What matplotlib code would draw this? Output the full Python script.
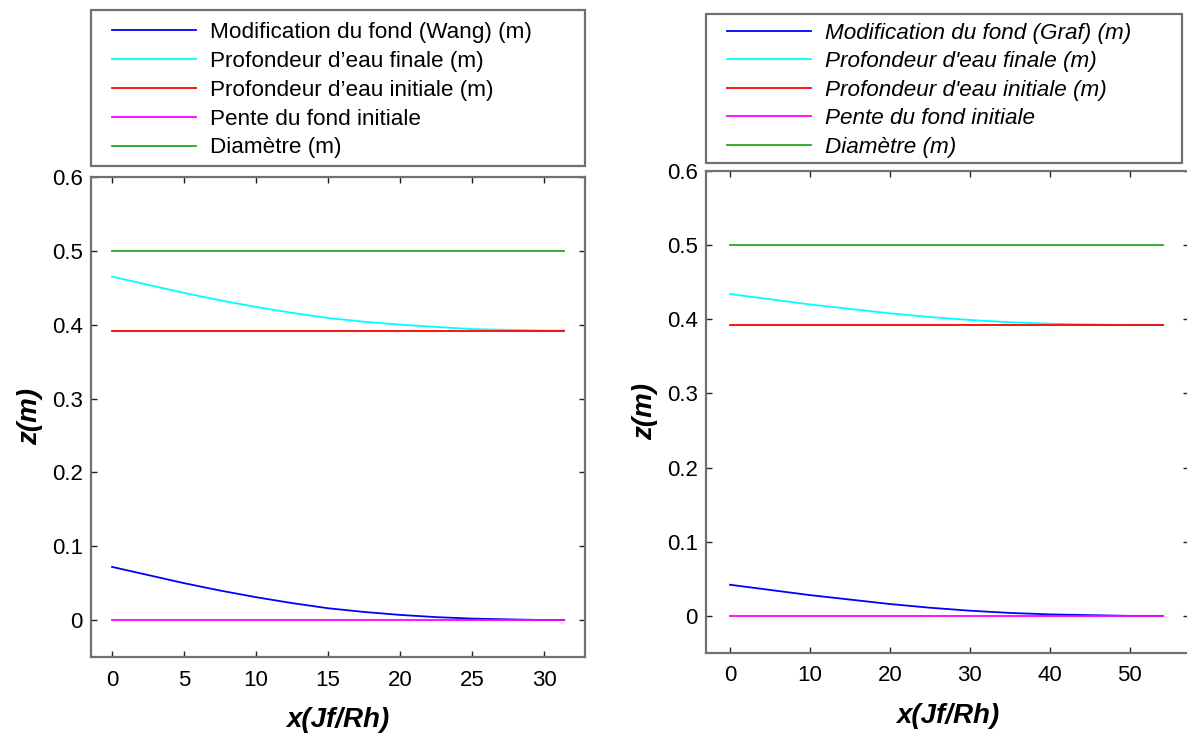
import matplotlib
matplotlib.use("Agg")
import matplotlib.pyplot as plt
from matplotlib.lines import Line2D
from matplotlib.patches import Rectangle
from matplotlib.legend_handler import HandlerLine2D

plt.rcParams['font.family'] = ['Liberation Sans', 'DejaVu Sans']

# left panel (Wang)
x_wang = [0, 2.5, 5, 7.5, 10, 12.5, 15, 17.5, 20, 22.5, 25, 27.5, 30, 31.4]
fond_wang = [0.072, 0.061, 0.050, 0.040, 0.031, 0.023, 0.016, 0.011, 0.007, 0.004, 0.002, 0.001, 0.0, 0.0]
eau_fin_wang = [0.465, 0.454, 0.443, 0.433, 0.424, 0.416, 0.409, 0.404, 0.400, 0.397, 0.394, 0.393, 0.392, 0.392]

# right panel (Graf)
x_graf = [0, 5, 10, 15, 20, 25, 30, 35, 40, 45, 50, 54.1]
fond_graf = [0.042, 0.035, 0.028, 0.022, 0.016, 0.011, 0.007, 0.004, 0.002, 0.001, 0.0, 0.0]
eau_fin_graf = [0.434, 0.427, 0.420, 0.414, 0.408, 0.403, 0.399, 0.396, 0.394, 0.393, 0.392, 0.392]

eau_init = 0.392
pente = 0.0
diametre = 0.5

labels_wang = ["Modification du fond (Wang) (m)", "Profondeur d\u2019eau finale (m)",
               "Profondeur d\u2019eau initiale (m)", "Pente du fond initiale", "Diam\u00e8tre (m)"]
labels_graf = ["Modification du fond (Graf) (m)", "Profondeur d'eau finale (m)",
               "Profondeur d'eau initiale (m)", "Pente du fond initiale", "Diam\u00e8tre (m)"]

colors = ['#0000ff', '#00ffff', '#ff0000', '#ff00ff', '#22aa22']
spine_col = '#707070'

W, H = 1187, 734
fig = plt.figure(figsize=(W / 100, H / 100), dpi=100)
ax1 = fig.add_axes([0.0767, 0.1049, 0.4162, 0.654])
ax2 = fig.add_axes([0.5948, 0.1104, 0.4069, 0.6567])


def draw(ax, x, fond, eau_fin, labels, xlim, xticks, box_px, leg_top_px, spacing, italic):
    h = []
    h += ax.plot(x, fond, color=colors[0], lw=1.3)
    h += ax.plot(x, eau_fin, color=colors[1], lw=1.3)
    h += ax.plot([x[0], x[-1]], [eau_init, eau_init], color=colors[2], lw=1.3)
    h += ax.plot([x[0], x[-1]], [pente, pente], color=colors[3], lw=1.3)
    h += ax.plot([x[0], x[-1]], [diametre, diametre], color=colors[4], lw=1.3)
    ax.set_xlim(xlim)
    ax.set_ylim(-0.05, 0.6)
    ax.set_xticks(xticks)
    ax.set_yticks([0, 0.1, 0.2, 0.3, 0.4, 0.5, 0.6])
    ax.set_yticklabels(['0', '0.1', '0.2', '0.3', '0.4', '0.5', '0.6'])
    ax.tick_params(direction='in', top=True, right=True, length=4, width=1,
                   labelsize=16, color='#222222')
    ax.tick_params(axis='x', pad=9)
    ax.tick_params(axis='y', pad=6)
    for s in ax.spines.values():
        s.set_color(spine_col)
        s.set_linewidth(1.6)
    ax.set_xlabel('x(Jf/Rh)', fontsize=20, fontweight='bold', style='italic', labelpad=12)
    ax.set_ylabel('z(m)', fontsize=20, fontweight='bold', style='italic', labelpad=6)

    # legend box drawn separately so its size matches the reference
    x0, y0, x1, y1 = box_px
    fig.add_artist(Rectangle((x0 / W, 1 - y1 / H), (x1 - x0) / W, (y1 - y0) / H,
                             transform=fig.transFigure, fill=False,
                             edgecolor=spine_col, lw=1.6))
    leg = fig.legend(h, labels, loc='upper left',
                     bbox_to_anchor=(x0 / W, 1 - leg_top_px / H),
                     borderaxespad=0, handlelength=4.15, frameon=False,
                     handletextpad=0.6, labelspacing=spacing, borderpad=0.53,
                     handler_map={Line2D: HandlerLine2D(xpad=0.42)},
                     prop={'size': 16.2, 'style': 'italic' if italic else 'normal'})
    return leg


draw(ax1, x_wang, fond_wang, eau_fin_wang, labels_wang, (-1.46, 32.85),
     [0, 5, 10, 15, 20, 25, 30], (91, 10, 585, 166), 10, 0.35, False)
draw(ax2, x_graf, fond_graf, eau_fin_graf, labels_graf, (-3.0, 57.4),
     [0, 10, 20, 30, 40, 50], (706, 14, 1182, 163), 11, 0.33, True)

fig.savefig('out.png', dpi=100)
